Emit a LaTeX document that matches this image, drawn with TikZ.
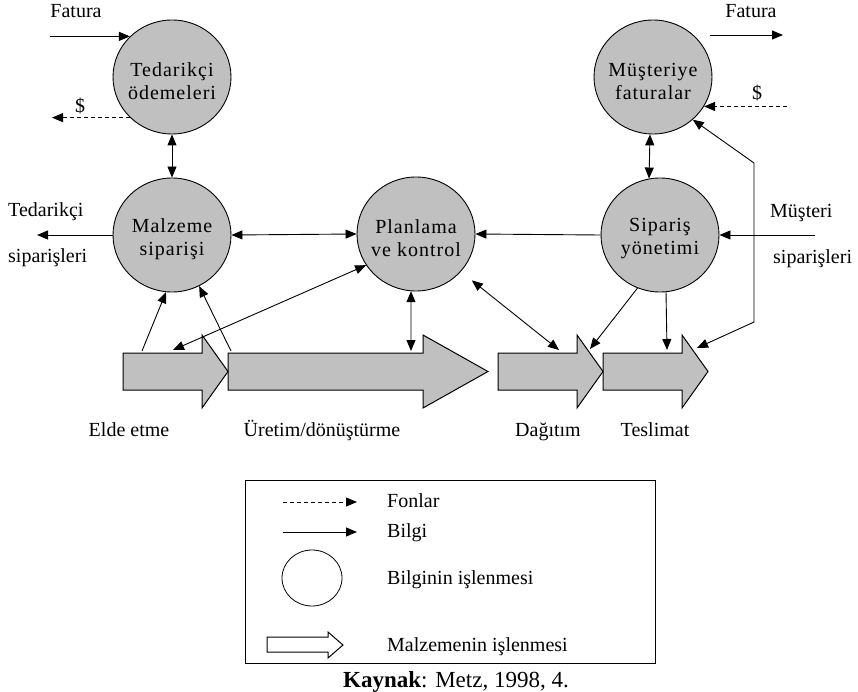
\documentclass[tikz,border=0pt]{standalone}
\usepackage{fontspec}
\setmainfont{Liberation Serif}
\newfontfamily\spacedserif{Liberation Serif}[LetterSpace=5]
\usetikzlibrary{arrows.meta,shapes.geometric}
\definecolor{procgray}{HTML}{C0C0C0}
\newcommand{\dfont}{\fontsize{20}{23}\selectfont}
\newcommand{\cfont}{\spacedserif\fontsize{20}{23}\selectfont}
% material-flow block arrow: left x, head start x, tip x
\newcommand{\blockarr}[3]{%
  \draw[flow] (#1,353) -- (#2,353) -- (#2,335) -- (#3,371.5) -- (#2,408) -- (#2,390) -- (#1,390) -- cycle;}

\begin{document}
\begin{tikzpicture}[x=1pt,y=-1pt,
  proc/.style={ellipse, draw, line width=0.9pt, fill=procgray, minimum width=118pt,
    minimum height=114pt, inner sep=0pt},
  ptext/.style={font=\cfont, align=center, inner sep=0pt, yshift=-4pt},
  info/.style={draw, line width=0.9pt, -{Triangle[length=11pt,width=9pt]}},
  dbl/.style={info, {Triangle[length=11pt,width=9pt]}-{Triangle[length=11pt,width=9pt]}},
  fund/.style={info, dash pattern=on 4pt off 3pt},
  lbl/.style={font=\dfont, inner sep=0pt},
  flow/.style={draw, line width=1pt, fill=procgray, line join=miter},
]
\fill[white] (0,0) rectangle (858,692);
\useasboundingbox (0,0) rectangle (858,692);

% information processing circles
\node[proc, label={[ptext]center:Tedarikçi\\ödemeleri}] (T)  at (172,77) {};
\node[proc, label={[ptext]center:Müşteriye\\faturalar}] (MF) at (653,77) {};
\node[proc, label={[ptext]center:Malzeme\\siparişi}]    (MS) at (172,235) {};
\node[proc, label={[ptext]center:Planlama\\ve kontrol}] (P)  at (416,234) {};
\node[proc, label={[ptext]center:Sipariş\\yönetimi}]    (S)  at (660,235) {};

% material flow
\blockarr{228}{423}{488}
\blockarr{123}{202}{228}
\blockarr{603}{682}{708}
\blockarr{498}{577}{603}

% connector end points on the material flow
\coordinate (a1in) at (142,351);
\coordinate (a1t)  at (173,350);
\coordinate (a2in) at (231,351);
\coordinate (a2t)  at (411,351);
\coordinate (a3t)  at (559,350);
\coordinate (a3h)  at (590,349);
\coordinate (a4t)  at (667,350);
\coordinate (a4h)  at (697,348);
\coordinate (bendlo) at (754,322);
\coordinate (bendhi) at (754,163);

\draw[info] (a1in) -- (MS.-96);
\draw[info] (a2in) -- (MS.-62);
\draw[dbl] (P.212) -- (a1t);
\draw[dbl] (P.-95) -- (a2t);
\draw[dbl, shorten <=14pt] (P.-40) -- (a3t);
\draw[info] (S.-113) -- (a3h);
\draw[info] (S.-84) -- (a4t);
\draw[dbl] (a4h) -- (bendlo) -- (bendhi) -- (MF.-47);

% links between the circles
\draw[dbl] (T.south) -- (MS.north);
\draw[dbl] (MF.-93) -- (S.101);
\draw[dbl] (MS.east) -- (P.west);
\draw[info] (S.west) -- (P.east);

% outside links
\coordinate (msin) at (815,235);
\draw[info] (msin) -- (S.east);
\coordinate (tsout) at (37,235);
\draw[info] (MS.west) -- (tsout);
\coordinate (fatL) at (50,0);
\draw[info] (fatL |- T.north west) -- (T.north west);
\coordinate (usdL) at (52,0);
\draw[fund] (T.south west) -- (usdL |- T.south west);
\coordinate (fatRa) at (710,35);
\coordinate (fatRb) at (783,35);
\draw[info] (fatRa) -- (fatRb);
\coordinate (usdR) at (787,0);
\draw[fund] (usdR |- MF.-30) -- (MF.-30);

% labels
\node[lbl, anchor=base] (fatLt) at (76,18) {Fatura};
\node[lbl, anchor=base] (fatRt) at (751,18) {Fatura};
\node[lbl, anchor=base] (usdLt) at (80,113) {\$};
\node[lbl, anchor=base] (usdRt) at (757,100) {\$};
\node[lbl, anchor=base west] (tsA) at (8,217) {Tedarikçi};
\node[lbl, anchor=base west] (tsB) at (8,263) {siparişleri};
\node[lbl, anchor=base west] (msA) at (770,218) {Müşteri};
\node[lbl, anchor=base west] (msB) at (773,264) {siparişleri};
\node[lbl, anchor=base] (l1) at (129,436) {Elde etme};
\node[lbl, anchor=base] (l2) at (322,436) {Üretim/dönüştürme};
\node[lbl, anchor=base] (l3) at (548,436) {Dağıtım};
\node[lbl, anchor=base] (l4) at (655,436) {Teslimat};

% legend
\draw[line width=1pt] (245,480) rectangle (655,663);
\coordinate (lf1) at (283,502); \coordinate (lf2) at (357,502);
\draw[fund] (lf1) -- (lf2);
\coordinate (lb1) at (283,532); \coordinate (lb2) at (357,532);
\draw[info] (lb1) -- (lb2);
\draw[line width=0.8pt] (312,578) ellipse [x radius=30, y radius=28];
\draw[line width=1pt, fill=white, line join=miter] (267,637) -- (328,637) -- (328,632) -- (343,645)
  -- (328,658) -- (328,652) -- (267,652) -- cycle;
\node[lbl, anchor=base west] (k1) at (387,507) {Fonlar};
\node[lbl, anchor=base west] (k2) at (387,537) {Bilgi};
\node[lbl, anchor=base west] (k3) at (387,584) {Bilginin işlenmesi};
\node[lbl, anchor=base west] (k4) at (387,651) {Malzemenin işlenmesi};
\node[inner sep=0pt, anchor=base, font=\fontsize{23}{27}\selectfont] (src) at (456,687)
  {\textbf{Kaynak}: Metz, 1998, 4.};
\end{tikzpicture}
\end{document}
